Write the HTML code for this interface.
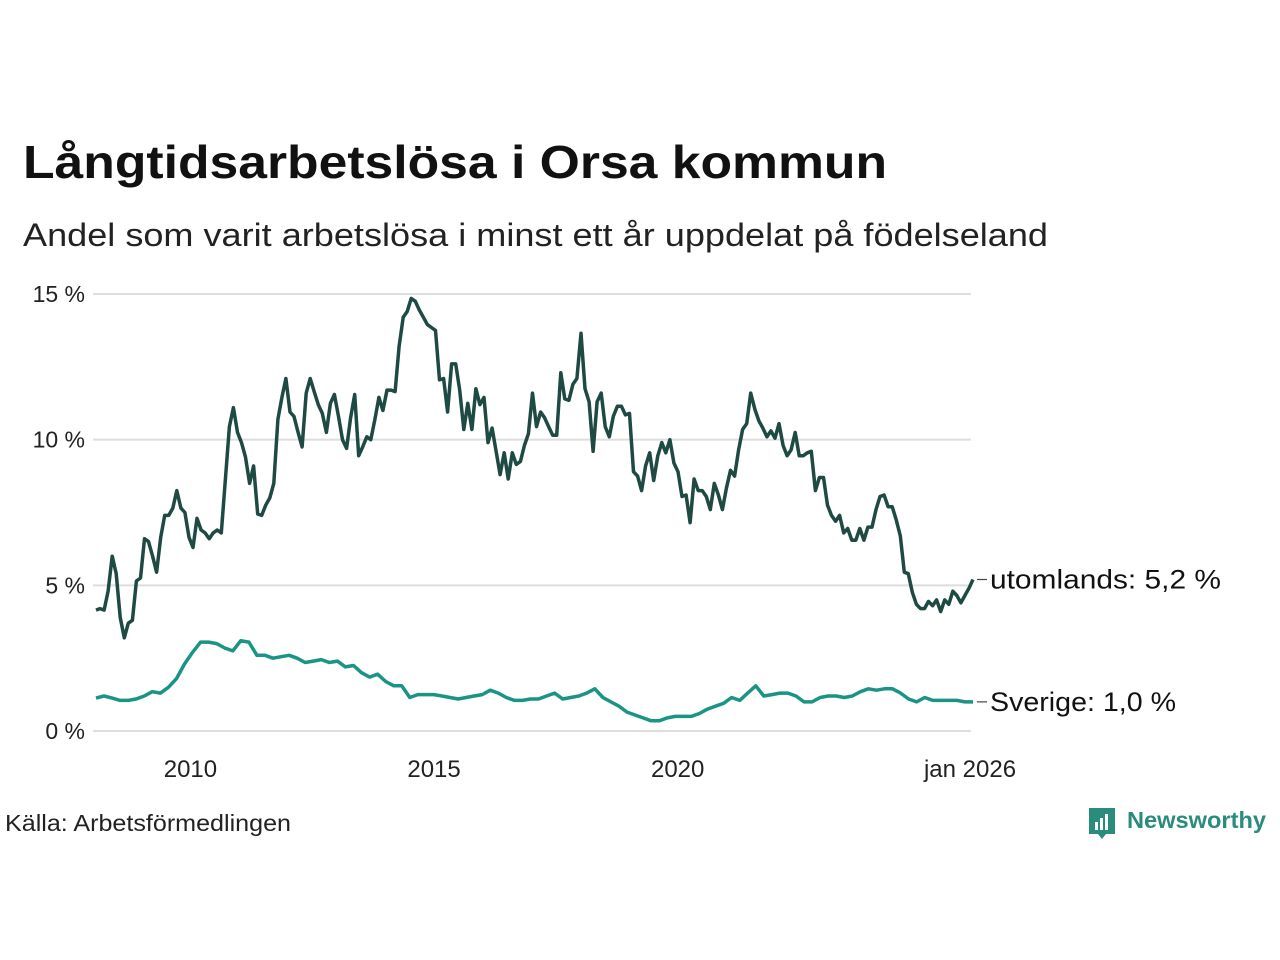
<!DOCTYPE html>
<html><head><meta charset="utf-8"><style>
html,body{margin:0;padding:0;background:#fff;}
svg{display:block;font-family:"Liberation Sans","DejaVu Sans",sans-serif;}
</style></head><body>
<svg id="chart" width="1280" height="960" viewBox="0 0 1280 960">
<text x="23" y="178" font-size="46" font-weight="bold" fill="#111" textLength="864" lengthAdjust="spacingAndGlyphs">Långtidsarbetslösa i Orsa kommun</text>
<text x="23" y="246" font-size="32" fill="#222" textLength="1025" lengthAdjust="spacingAndGlyphs">Andel som varit arbetslösa i minst ett år uppdelat på födelseland</text>
<g id="grid"></g>
<g id="lines"></g>
<text x="5" y="831" font-size="23" fill="#222" textLength="286" lengthAdjust="spacingAndGlyphs">Källa: Arbetsförmedlingen</text>
<g>
<path d="M1089 808 h26 v26 h-9 l-4 5 l-4 -5 h-9 z" fill="#2a8c7c"/>
<rect x="1095" y="822" width="3" height="8" fill="#fff"/><rect x="1100" y="818" width="3" height="12" fill="#fff"/><rect x="1105" y="814" width="3" height="16" fill="#fff"/>
<text x="1127" y="828" font-size="23" font-weight="bold" fill="#2a8c7c" textLength="139" lengthAdjust="spacingAndGlyphs">Newsworthy</text>
</g>
</svg>
<script>
const yTicks=[0,5,10,15];
const yTickLabels=["0 %","5 %","10 %","15 %"];
const xTicks=[2010,2015,2020,2026];
const xTickLabels=["2010","2015","2020","jan 2026"];
const startYear=2008, endYear=2026;
const utomlands=[4.15,4.2,4.15,4.8,6.0,5.4,3.9,3.2,3.7,3.8,5.15,5.25,6.6,6.5,6.0,5.45,6.65,7.4,7.4,7.65,8.25,7.65,7.5,6.65,6.3,7.3,6.9,6.8,6.6,6.8,6.9,6.8,8.6,10.45,11.1,10.25,9.9,9.4,8.5,9.1,7.45,7.4,7.75,8.0,8.5,10.7,11.45,12.1,10.95,10.8,10.25,9.75,11.6,12.1,11.65,11.2,10.9,10.25,11.25,11.55,10.8,10.0,9.7,10.75,11.55,9.45,9.75,10.1,10.0,10.7,11.45,11.0,11.7,11.7,11.65,13.2,14.2,14.4,14.85,14.75,14.45,14.2,13.95,13.85,13.75,12.05,12.1,10.95,12.6,12.6,11.7,10.35,11.25,10.35,11.75,11.2,11.45,9.9,10.4,9.6,8.8,9.55,8.65,9.55,9.15,9.25,9.8,10.2,11.6,10.45,10.95,10.75,10.45,10.15,10.15,12.3,11.4,11.35,11.9,12.1,13.65,11.75,11.3,9.6,11.3,11.6,10.45,10.1,10.8,11.15,11.15,10.85,10.9,8.9,8.75,8.25,9.1,9.55,8.6,9.45,9.9,9.55,10.0,9.2,8.9,8.05,8.1,7.15,8.65,8.25,8.25,8.05,7.6,8.5,8.1,7.6,8.35,8.95,8.75,9.65,10.35,10.55,11.6,11.05,10.65,10.4,10.1,10.3,10.05,10.55,9.8,9.45,9.65,10.25,9.45,9.45,9.55,9.6,8.25,8.7,8.7,7.75,7.4,7.2,7.4,6.8,6.95,6.55,6.55,6.95,6.55,7.0,7.0,7.6,8.05,8.1,7.7,7.7,7.25,6.7,5.45,5.4,4.75,4.35,4.2,4.2,4.45,4.3,4.5,4.1,4.5,4.35,4.8,4.65,4.4,4.65,4.9,5.2];
const sverige=[1.13,1.2,1.13,1.05,1.05,1.1,1.2,1.35,1.3,1.5,1.8,2.3,2.7,3.05,3.05,3.0,2.85,2.75,3.1,3.05,2.6,2.6,2.5,2.55,2.6,2.5,2.35,2.4,2.45,2.35,2.4,2.2,2.25,2.0,1.85,1.95,1.7,1.55,1.55,1.15,1.25,1.25,1.25,1.2,1.15,1.1,1.15,1.2,1.25,1.4,1.3,1.15,1.05,1.05,1.1,1.1,1.2,1.3,1.1,1.15,1.2,1.3,1.45,1.15,1.0,0.85,0.65,0.55,0.45,0.35,0.35,0.45,0.5,0.5,0.5,0.6,0.75,0.85,0.95,1.15,1.05,1.3,1.55,1.2,1.25,1.3,1.3,1.2,1.0,1.0,1.15,1.2,1.2,1.15,1.2,1.35,1.45,1.4,1.45,1.45,1.3,1.1,1.0,1.15,1.05,1.05,1.05,1.05,1.0,1.0];
const seriesNames=["utomlands","Sverige"];
const endLabelWidths=[231,186];
const NS="http://www.w3.org/2000/svg";
const X0=96,X1=973,Y0=731,Y15=294;
function xScale(year){return X0+(year-startYear)/(endYear-startYear)*(X1-X0);}
function yScale(v){return Y0+(Y15-Y0)*v/15;}
const grid=document.getElementById('grid');
yTicks.forEach((t,i)=>{
 const l=document.createElementNS(NS,'line');
 l.setAttribute('x1',93);l.setAttribute('x2',971);
 l.setAttribute('y1',yScale(t));l.setAttribute('y2',yScale(t));
 l.setAttribute('stroke','#dedede');l.setAttribute('stroke-width','2');
 
 
 grid.appendChild(l);
 const tx=document.createElementNS(NS,'text');
 tx.setAttribute('x',85);tx.setAttribute('y',yScale(t)+8);
 tx.setAttribute('text-anchor','end');tx.setAttribute('font-size','23');tx.setAttribute('fill','#222');
 tx.textContent=yTickLabels[i];
 
 
 grid.appendChild(tx);
});
xTicks.forEach((t,i)=>{
 const tx=document.createElementNS(NS,'text');
 tx.setAttribute('x',xScale(t)-3);tx.setAttribute('y',777);
 tx.setAttribute('text-anchor','middle');tx.setAttribute('font-size','24');tx.setAttribute('fill','#222');
 tx.textContent=xTickLabels[i];
 
 
 grid.appendChild(tx);
});
const lines=document.getElementById('lines');
function draw(vals,color,name,label,w){
 const n=vals.length;
 const pts=vals.map((v,i)=>xScale(startYear+i*(endYear-startYear)/(n-1)).toFixed(1)+','+yScale(v).toFixed(1)).join(' ');
 const p=document.createElementNS(NS,'polyline');
 p.setAttribute('points',pts);p.setAttribute('fill','none');p.setAttribute('stroke',color);
 p.setAttribute('stroke-width','3.5');p.setAttribute('stroke-linejoin','round');
 
 
 lines.appendChild(p);
 const last=vals[n-1],ly=yScale(last);
 const c=document.createElementNS(NS,'line');
 c.setAttribute('x1',977);c.setAttribute('x2',987);c.setAttribute('y1',ly);c.setAttribute('y2',ly);
 c.setAttribute('stroke','#444');c.setAttribute('stroke-width','1.2');
 
 
 lines.appendChild(c);
 const t=document.createElementNS(NS,'text');
 t.setAttribute('x',990);t.setAttribute('y',ly+9);t.setAttribute('font-size','27');t.setAttribute('fill','#111');
 t.setAttribute('textLength',w);t.setAttribute('lengthAdjust','spacingAndGlyphs');
 t.textContent=label+': '+last.toFixed(1).replace('.',',')+' %';
 
 
 lines.appendChild(t);
}
draw(sverige,'#1a9484','sverige',seriesNames[1],endLabelWidths[1]);
draw(utomlands,'#1f4a44','utomlands',seriesNames[0],endLabelWidths[0]);
</script>
</body></html>
